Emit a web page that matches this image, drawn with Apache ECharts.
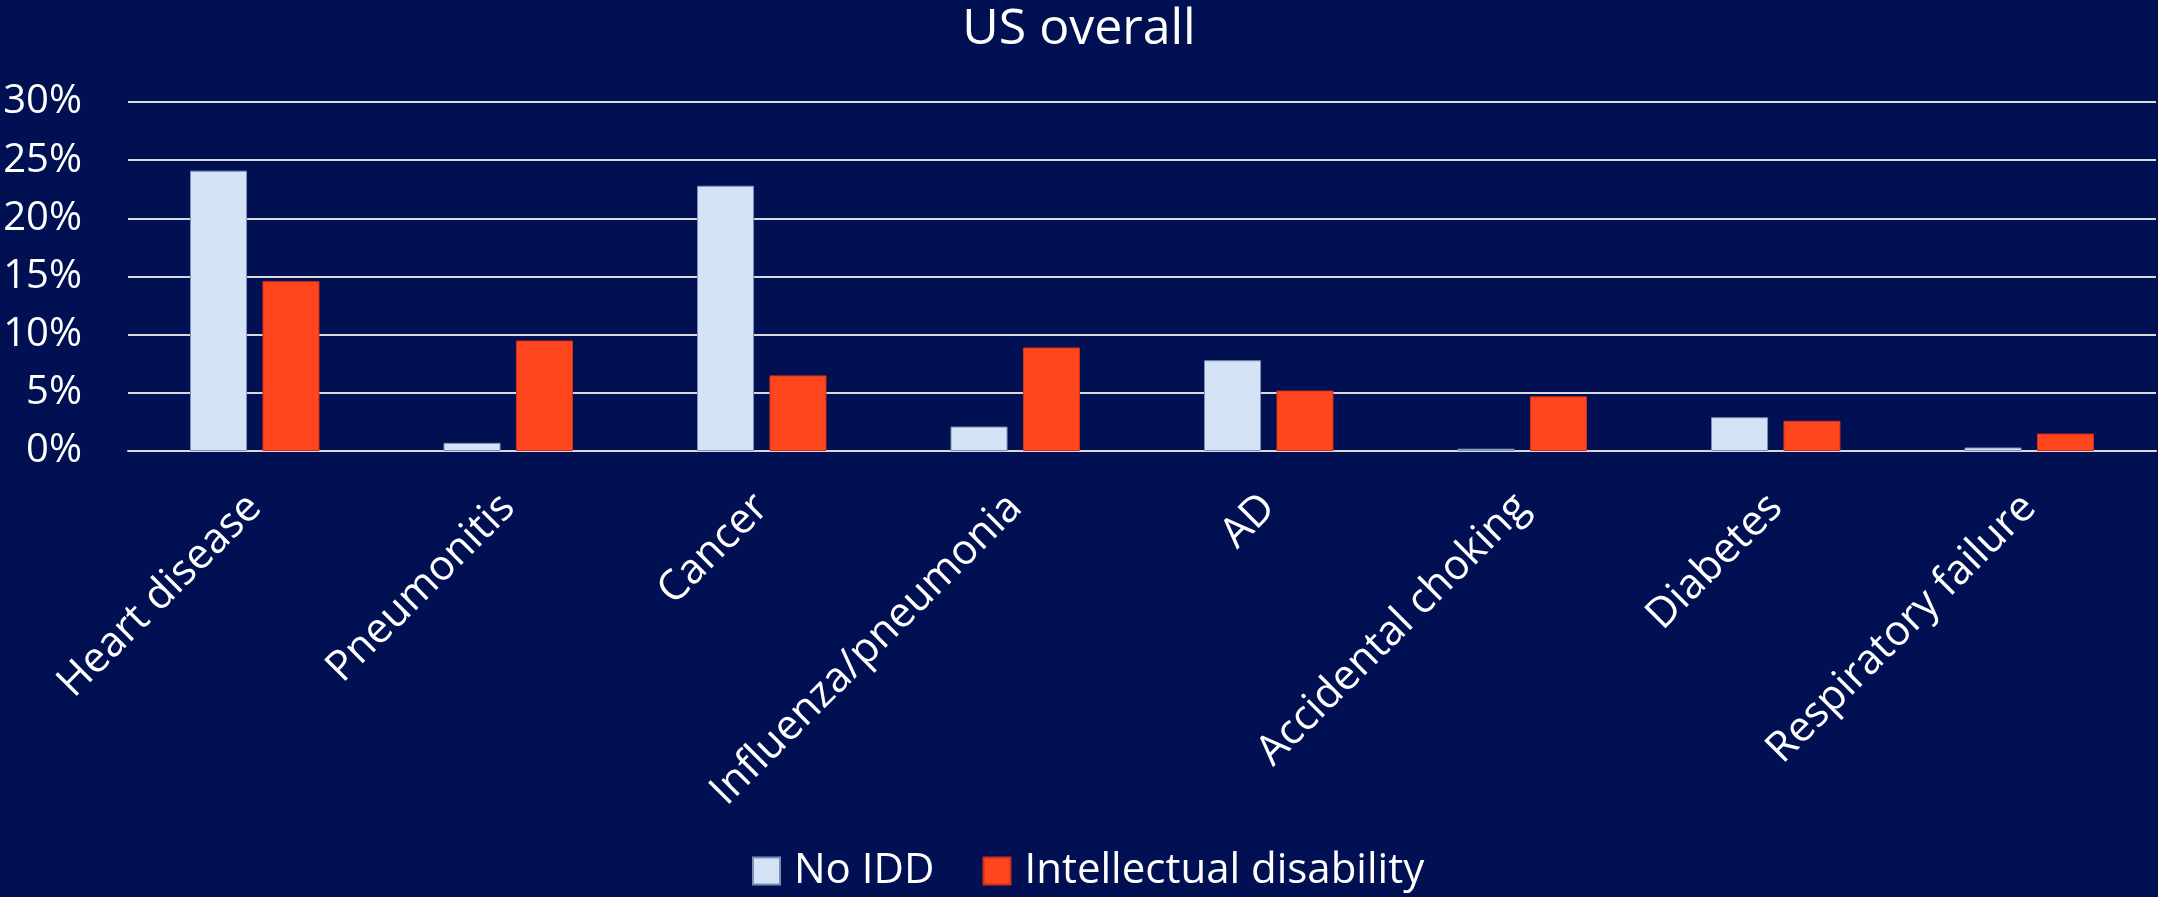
<!DOCTYPE html>
<html>
<head>
<meta charset="utf-8">
<script src="https://cdn.jsdelivr.net/npm/echarts@6/dist/echarts.min.js"></script>
<style>
html,body{margin:0;padding:0;background:#001052;}
#chart{width:2158px;height:897px;}
</style>
</head>
<body>
<div id="chart"></div>
<script>
const categories = ['Heart disease','Pneumonitis','Cancer','Influenza/pneumonia','AD','Accidental choking','Diabetes','Respiratory failure'];
const noIDD = [24.1, 0.7, 22.8, 2.1, 7.8, 0.2, 2.9, 0.3];
const intellectualDisability = [14.6, 9.5, 6.5, 8.9, 5.2, 4.7, 2.6, 1.5];
const seriesNames = ['No IDD', 'Intellectual disability'];
const yTicks = [0, 5, 10, 15, 20, 25, 30];

const FONT = 'Open Sans';
const chart = echarts.init(document.getElementById('chart'));
chart.setOption({
  backgroundColor: '#001052',
  textStyle: {fontFamily: FONT},
  title: {
    text: 'US overall',
    left: 'center',
    top: 0,
    textStyle: {color: '#ffffff', fontSize: 50, fontWeight: 'normal', fontFamily: FONT}
  },
  legend: {
    data: seriesNames,
    bottom: 0,
    left: 747,
    itemWidth: 27,
    itemHeight: 27,
    itemGap: 48,
    icon: 'rect',
    textStyle: {color: '#ffffff', fontSize: 42, fontFamily: FONT, padding: [0,0,0,9]}
  },
  grid: {left: 128, right: 2, top: 102, bottom: 897 - 451, containLabel: false},
  xAxis: {
    type: 'category',
    data: categories,
    axisTick: {show: false},
    axisLine: {show: true, lineStyle: {color: '#d9d9d9', width: 2}},
    axisLabel: {
      interval: 0,
      rotate: 45,
      margin: 50,
      color: '#ffffff',
      fontSize: 42,
      fontFamily: FONT
    }
  },
  yAxis: {
    type: 'value',
    min: yTicks[0],
    max: yTicks[yTicks.length - 1],
    interval: 5,
    axisLine: {show: false},
    axisTick: {show: false},
    splitLine: {lineStyle: {color: '#d9d9d9', width: 2}},
    axisLabel: {
      formatter: v => v + '%',
      color: '#ffffff',
      fontSize: 40,
      margin: 46,
      fontFamily: FONT
    }
  },
  series: [
    {
      name: seriesNames[0],
      type: 'bar',
      data: noIDD,
      barWidth: '22.5%',
      barGap: '27%',
      itemStyle: {color: '#d4e3f6', borderColor: '#7b8fb5', borderWidth: 1}
    },
    {
      name: seriesNames[1],
      type: 'bar',
      data: intellectualDisability,
      barWidth: '22.5%',
      barGap: '27%',
      itemStyle: {color: '#ff461c', borderColor: '#d0301a', borderWidth: 1}
    }
  ]
});
</script>
</body>
</html>
